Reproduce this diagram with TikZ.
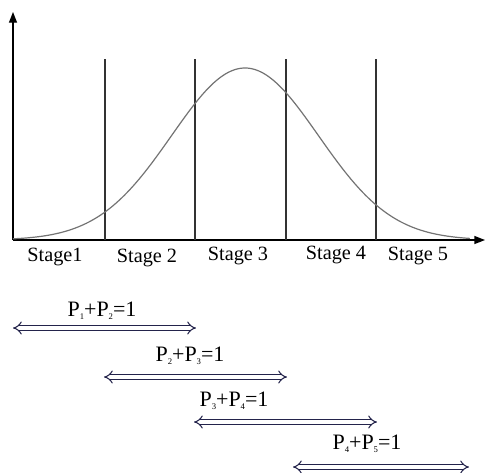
\documentclass[tikz,border=0pt]{standalone}
\usepackage{fontspec}
\setmainfont{Liberation Serif}
\usetikzlibrary{arrows.meta}
\definecolor{navy}{RGB}{35,35,75}
\newcommand{\sbx}[1]{\raisebox{-2.4pt}{\fontsize{6.5}{6.5}\selectfont #1}}
\tikzset{
  axis/.style={line width=1pt,-{Triangle[length=8pt,width=6pt]}},
  divider/.style={line width=0.9pt,draw=black!80},
  bell/.style={line width=0.9pt,draw=black!55},
  stagelbl/.style={font=\fontsize{15.2}{16}\selectfont,inner sep=0pt},
  plbl/.style={font=\fontsize{16.5}{17}\selectfont,inner sep=0pt},
  darrow/.style={draw=navy,double=white,double distance=2.6pt,line width=0.8pt,
     {Implies[length=6pt]}-{Implies[length=6pt]}}
}
\begin{document}
\begin{tikzpicture}[x=0.75pt,y=-0.75pt]
\useasboundingbox (0,0) rectangle (486,472);
\coordinate (O) at (13,240);
\coordinate (Ytop) at (13,12);
\coordinate (Xend) at (485,240);
\draw[axis] (O) -- (Ytop);
\draw[axis] (O) -- (Xend);
% dividers
\foreach \n/\x in {a/105,b/195,c/286,d/376}{
  \coordinate (\n top) at (\x,59);
  \coordinate (\n bot) at (\x,240);
  \draw[divider] (\n top) -- (\n bot);
}
% bell curve
\draw[bell] plot[domain=-2.32:2.25,samples=120,smooth] ({245+100*\x},{240-172*exp(-\x*\x/1.08)});
% stage labels
\node[stagelbl] (s1) at (55,257) {Stage1};
\node[stagelbl] (s2) at (147,258) {Stage 2};
\node[stagelbl] (s3) at (238,256) {Stage 3};
\node[stagelbl] (s4) at (336,255) {Stage 4};
\node[stagelbl] (s5) at (418,256) {Stage 5};
% double arrows
\coordinate (a1l) at (13,328);  \coordinate (a1r) at (196,328);
\coordinate (a2l) at (104,377); \coordinate (a2r) at (287,377);
\coordinate (a3l) at (194,422); \coordinate (a3r) at (377,422);
\coordinate (a4l) at (293,467); \coordinate (a4r) at (469,467);
\draw[darrow] (a1l) -- (a1r);
\draw[darrow] (a2l) -- (a2r);
\draw[darrow] (a3l) -- (a3r);
\draw[darrow] (a4l) -- (a4r);
\node[plbl] (p12) at (102,311) {P\sbx{1}+P\sbx{2}=1};
\node[plbl] (p23) at (190,356) {P\sbx{2}+P\sbx{3}=1};
\node[plbl] (p34) at (234,401) {P\sbx{3}+P\sbx{4}=1};
\node[plbl] (p45) at (367,444) {P\sbx{4}+P\sbx{5}=1};
\end{tikzpicture}
\end{document}
